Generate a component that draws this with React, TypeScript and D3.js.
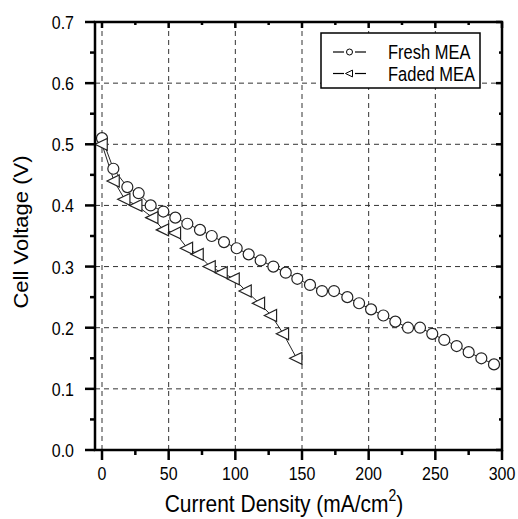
import * as d3 from "d3";

// Fresh MEA polarisation curve
const freshX = [0, 8.5, 19, 27.5, 36.5, 46, 55, 64, 73.5, 82.3, 91.5, 101, 110, 119, 128.5, 137.8, 146.5, 156, 165, 174, 184, 192.8, 201.8, 211, 220, 229.5, 238.5, 247.7, 256.7, 266, 275, 284.5, 294];
const freshV = [0.51, 0.46, 0.43, 0.42, 0.40, 0.39, 0.38, 0.37, 0.36, 0.35, 0.34, 0.33, 0.32, 0.31, 0.30, 0.29, 0.28, 0.27, 0.26, 0.26, 0.25, 0.24, 0.23, 0.22, 0.21, 0.20, 0.20, 0.19, 0.18, 0.17, 0.16, 0.15, 0.14];

// Faded MEA polarisation curve
const fadedX = [0, 9, 17, 26, 38, 46, 55, 64, 72, 81, 90, 99, 108, 118, 127, 136, 146];
const fadedV = [0.50, 0.44, 0.41, 0.40, 0.38, 0.36, 0.355, 0.33, 0.32, 0.30, 0.29, 0.28, 0.26, 0.24, 0.22, 0.19, 0.15];

const xTicks = [0, 50, 100, 150, 200, 250, 300];
const yTicks = [0, 0.1, 0.2, 0.3, 0.4, 0.5, 0.6, 0.7];
const legendLabels = ["Fresh MEA", "Faded MEA"];

const W = 518;
const H = 519;
const left = 95, right = 502, top = 22, bottom = 450;
const font = "'Liberation Sans', Arial, sans-serif";
// the figure is a bit stretched vertically, so the text is too
const stretch = 1.18;

const x = d3.scaleLinear().domain([-5.25, 300]).range([left, right]);
const y = d3.scaleLinear().domain([0, 0.7]).range([bottom, top]);

const xMinor = d3.range(0, 301, 25).filter((v) => v % 50 !== 0);
const yMinor = d3.range(0.05, 0.7, 0.1);

const line = d3.line<[number, number]>().x((d) => x(d[0])).y((d) => y(d[1]));

const fresh: [number, number][] = freshX.map((v, i) => [v, freshV[i]]);
const faded: [number, number][] = fadedX.map((v, i) => [v, fadedV[i]]);

function tri(cx: number, cy: number, s: number) {
  // left-pointing triangle
  return `M${cx - s},${cy} L${cx + s * 0.75},${cy - s * 0.85} L${cx + s * 0.75},${cy + s * 0.85} Z`;
}

export default function App() {
  const grid = "#333";
  return (
    <svg width={W} height={H} style={{ display: "block", position: "absolute", left: 0, top: 0 }}>
      <rect width={W} height={H} fill="#fff" />
      {/* grid */}
      <g stroke={grid} strokeWidth={1} strokeDasharray="5,4">
        {xTicks.map((t) => (
          <line key={"gx" + t} x1={x(t)} x2={x(t)} y1={top} y2={bottom} />
        ))}
        {yTicks.slice(1, -1).map((t) => (
          <line key={"gy" + t} x1={left} x2={right} y1={y(t)} y2={y(t)} />
        ))}
      </g>
      {/* series lines */}
      <path d={line(fresh) ?? ""} fill="none" stroke="#222" strokeWidth={1} />
      <path d={line(faded) ?? ""} fill="none" stroke="#222" strokeWidth={1} />
      {fresh.map((d, i) => (
        <circle key={"f" + i} cx={x(d[0])} cy={y(d[1])} r={5.5} fill="#fff" stroke="#222" strokeWidth={1.2} />
      ))}
      {faded.map((d, i) => (
        <path key={"d" + i} d={tri(x(d[0]), y(d[1]), 7)} fill="#fff" stroke="#222" strokeWidth={1.2} />
      ))}
      {/* frame */}
      <rect x={left} y={top} width={right - left} height={bottom - top} fill="none" stroke="#000" strokeWidth={2.5} />
      {/* ticks */}
      <g stroke="#000" strokeWidth={2.5}>
        {xTicks.map((t) => (
          <g key={"xt" + t}>
            <line x1={x(t)} x2={x(t)} y1={bottom} y2={bottom + 10} />
            <line x1={x(t)} x2={x(t)} y1={top} y2={top + 6} />
          </g>
        ))}
        {xMinor.map((t) => (
          <g key={"xm" + t}>
            <line x1={x(t)} x2={x(t)} y1={bottom} y2={bottom + 5} />
            <line x1={x(t)} x2={x(t)} y1={top} y2={top + 3} />
          </g>
        ))}
        {yTicks.map((t) => (
          <g key={"yt" + t}>
            <line x1={left - 10} x2={left} y1={y(t)} y2={y(t)} />
            <line x1={right - 6} x2={right} y1={y(t)} y2={y(t)} />
          </g>
        ))}
        {yMinor.map((t) => (
          <g key={"ym" + t}>
            <line x1={left - 5} x2={left} y1={y(t)} y2={y(t)} />
            <line x1={right - 3} x2={right} y1={y(t)} y2={y(t)} />
          </g>
        ))}
      </g>
      {/* tick labels */}
      <g fontFamily={font} fontSize={16} fill="#000">
        {xTicks.map((t) => (
          <text key={"xl" + t} transform={`translate(${x(t)},${bottom + 30}) scale(1,${stretch})`} textAnchor="middle">
            {t}
          </text>
        ))}
        {yTicks.map((t) => (
          <text key={"yl" + t} transform={`translate(${left - 21},${y(t) + 7}) scale(1,${stretch})`} textAnchor="end">
            {t.toFixed(1)}
          </text>
        ))}
      </g>
      {/* axis titles */}
      <text
        transform={`translate(284,512) scale(1,${stretch})`}
        textAnchor="middle"
        fontFamily={font}
        fontSize={21}
      >
        Current Density (mA/cm<tspan dy={-9} fontSize={14}>2</tspan>
        <tspan dy={9}>)</tspan>
      </text>
      <text
        transform={`translate(28,232) rotate(-90) scale(1.05,1)`}
        textAnchor="middle"
        fontFamily={font}
        fontSize={21}
      >
        Cell Voltage (V)
      </text>
      {/* legend */}
      <g>
        <rect x={321} y={33} width={159} height={55} fill="#fff" stroke="#000" strokeWidth={1.5} />
        {legendLabels.map((lab, i) => {
          const cy = 52 + i * 21.5;
          return (
            <g key={lab}>
              <line x1={333} x2={344} y1={cy} y2={cy} stroke="#000" strokeWidth={1.2} />
              <line x1={355} x2={366} y1={cy} y2={cy} stroke="#000" strokeWidth={1.2} />
              {i === 0 ? (
                <circle cx={349.5} cy={cy} r={3} fill="#fff" stroke="#000" strokeWidth={1} />
              ) : (
                <path d={tri(349.5, cy, 4)} fill="#fff" stroke="#000" strokeWidth={1} />
              )}
              <text
                transform={`translate(388,${cy + 7}) scale(1,${stretch})`}
                fontFamily={font}
                fontSize={16.5}
              >
                {lab}
              </text>
            </g>
          );
        })}
      </g>
    </svg>
  );
}
